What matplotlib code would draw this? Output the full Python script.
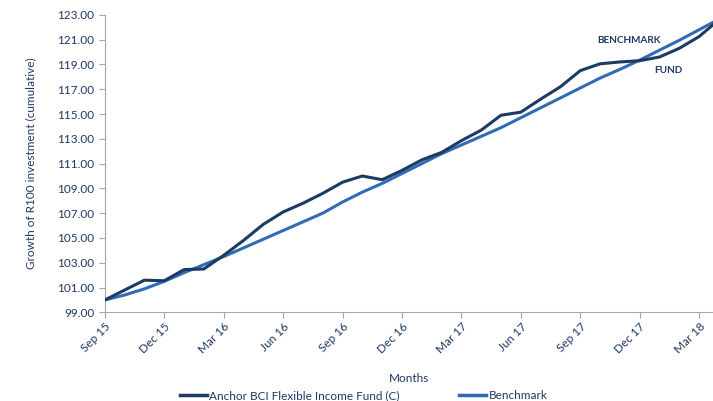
import matplotlib.pyplot as plt

plt.rcParams['font.family'] = ['Lato', 'DejaVu Sans']

# ── data (month index 0 = Sep 15, last point Apr 18 runs off the right edge) ──
months = list(range(32))
fund = [100.0, 100.8, 101.6, 101.55, 102.45, 102.5, 103.6, 104.8, 106.1, 107.1,
        107.8, 108.6, 109.5, 110.0, 109.7, 110.45, 111.3, 111.9, 112.85, 113.7,
        114.9, 115.15, 116.2, 117.2, 118.5, 119.05, 119.2, 119.3, 119.6, 120.3,
        121.25, 122.6]
benchmark = [100.0, 100.4, 100.9, 101.5, 102.2, 102.85, 103.5, 104.2, 104.9, 105.6,
             106.3, 107.0, 107.9, 108.7, 109.4, 110.2, 111.0, 111.8, 112.5, 113.2,
             113.9, 114.7, 115.5, 116.3, 117.1, 117.9, 118.6, 119.35, 120.15, 120.95,
             121.8, 122.65]
tick_pos = [0, 3, 6, 9, 12, 15, 18, 21, 24, 27, 30]
tick_labels = ['Sep 15', 'Dec 15', 'Mar 16', 'Jun 16', 'Sep 16', 'Dec 16',
               'Mar 17', 'Jun 17', 'Sep 17', 'Dec 17', 'Mar 18']
y_ticks = list(range(99, 124, 2))

NAVY = '#1f3864'
FUND_COL = '#1c3a63'
BENCH_COL = '#2e6db4'

fig = plt.figure(figsize=(7.13, 4.01), dpi=100)
ax = fig.add_axes([0.147, 0.221, 0.853, 0.742])

ax.plot(months, fund, color=FUND_COL, lw=2.2, solid_joinstyle='round',
        label='Anchor BCI Flexible Income Fund (C)', zorder=3)
ax.plot(months, benchmark, color=BENCH_COL, lw=2.2, solid_joinstyle='round',
        label='Benchmark', zorder=2)

ax.set_xlim(0, 30.7)
ax.set_ylim(99, 123)
ax.set_yticks(y_ticks)
ax.set_yticklabels([f'{v:.2f}' for v in y_ticks])
ax.set_xticks(tick_pos)
ax.set_xticklabels(tick_labels, rotation=45, ha='right', rotation_mode='anchor')

for s in ['top', 'right']:
    ax.spines[s].set_visible(False)
for s in ['left', 'bottom']:
    ax.spines[s].set_color('#a6a6a6')
    ax.spines[s].set_linewidth(0.8)
ax.tick_params(axis='both', colors='#a6a6a6', labelcolor=NAVY, labelsize=8.5,
               length=4, width=0.8)
ax.tick_params(axis='x', pad=2)

ax.set_ylabel('Growth of R100 investment (cumulative)', color=NAVY, fontsize=8.5,
              labelpad=15)
fig.text(0.573, 0.048, 'Months', color=NAVY, fontsize=8.5, ha='center')

ax.text(26.45, 120.95, 'BENCHMARK', color=NAVY, fontsize=7.2, fontweight='bold',
        ha='center', va='center')
ax.text(28.45, 118.55, 'FUND', color=NAVY, fontsize=7.2, fontweight='bold',
        ha='center', va='center')

leg = fig.legend(loc='center', bbox_to_anchor=(0.51, 0.013), ncol=2, frameon=False,
                 fontsize=8.5, handlelength=2.3, handletextpad=0.2,
                 columnspacing=5.0)
for t in leg.get_texts():
    t.set_color(NAVY)
for h in leg.get_lines():
    h.set_linewidth(2.5)

fig.savefig('out.png', dpi=100)
